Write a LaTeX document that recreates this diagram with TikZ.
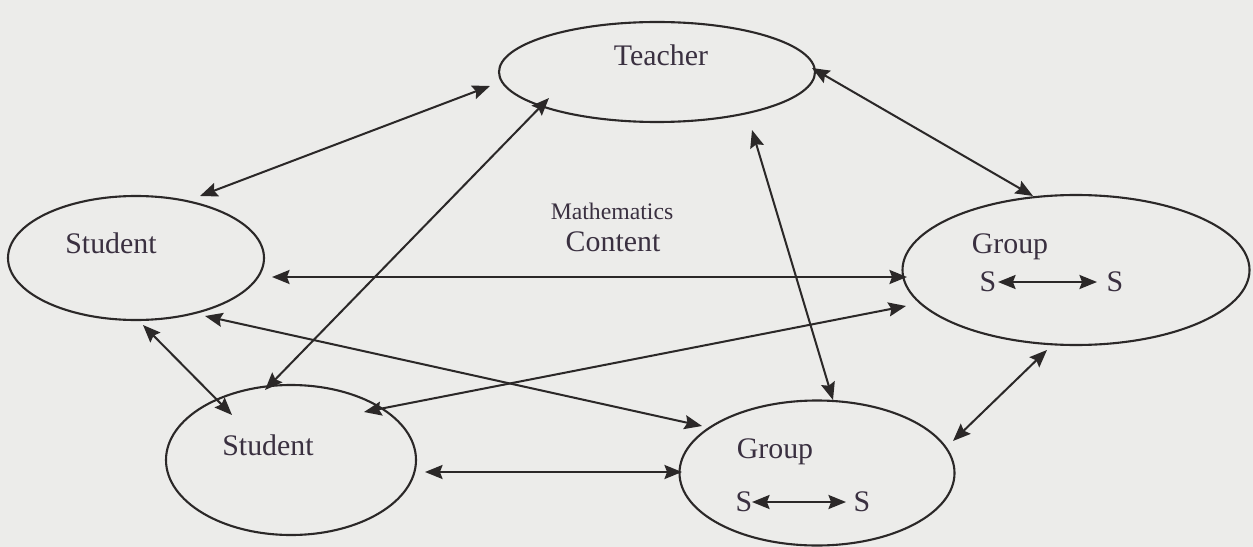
\documentclass[tikz,border=0pt]{standalone}
\usepackage{fontspec}
\setmainfont{Liberation Serif}
\usetikzlibrary{shapes.geometric,arrows.meta}
\definecolor{bg}{HTML}{ECECEA}
\definecolor{ink}{HTML}{2B2828}
\definecolor{txt}{HTML}{3A3040}
\tikzset{
  oval/.style={draw=ink, line width=1.2pt, ellipse, inner sep=0pt},
  link/.style={draw=ink, line width=1.15pt, {Stealth[length=10pt,width=8pt,inset=1.5pt]}-{Stealth[length=10pt,width=8pt,inset=1.5pt]}},
  lbl/.style={text=txt, font=\fontsize{17}{20}\selectfont, inner sep=0pt},
  small/.style={text=txt, font=\fontsize{13.5}{16}\selectfont, inner sep=0pt}
}
\begin{document}
\begin{tikzpicture}[x=0.02cm,y=-0.02cm]
\fill[bg] (0,0) rectangle (1253,547);
\useasboundingbox (0,0) rectangle (1253,547);
% ellipses
\node[oval, minimum width=316*0.02cm, minimum height=100*0.02cm] (teacher) at (657,72) {};
\node[oval, minimum width=256*0.02cm, minimum height=124*0.02cm] (studentL) at (136,258) {};
\node[oval, minimum width=250*0.02cm, minimum height=150*0.02cm] (studentB) at (291,460) {};
\node[oval, minimum width=347*0.02cm, minimum height=150*0.02cm] (groupR) at (1076,270) {};
\node[oval, minimum width=275*0.02cm, minimum height=145*0.02cm] (groupB) at (817,473) {};
% labels
\node[lbl] (tT) at (661,55) {Teacher};
\node[lbl] (tSL) at (111,243) {Student};
\node[lbl] (tSB) at (268,445) {Student};
\node[lbl] (tGR) at (1010,247) {Group};
\node[lbl] (tGB) at (775,452) {Group};
\node[small] (tM) at (612,211) {Mathematics};
\node[lbl] (tC) at (613,242) {Content};
% S <-> S
\node[lbl] (sR1) at (988,282) {S};
\node[lbl] (sR2) at (1115,282) {S};
\node[lbl] (sB1) at (744,502) {S};
\node[lbl] (sB2) at (862,502) {S};
\coordinate (sr1) at (998,282); \coordinate (sr2) at (1097,282);
\coordinate (sb1) at (752,502); \coordinate (sb2) at (846,502);
\draw[link] (sr1) -- (sr2);
\draw[link] (sb1) -- (sb2);
% endpoints
\coordinate (a1) at (490,86);  \coordinate (b1) at (200,196);
\coordinate (a2) at (549,98);  \coordinate (b2) at (265,390);
\coordinate (a3) at (812,68);  \coordinate (b3) at (1033,196);
\coordinate (a4) at (752,130); \coordinate (b4) at (833,400);
\coordinate (a5) at (272,277); \coordinate (b5) at (907,277);
\coordinate (a6) at (143,325); \coordinate (b6) at (232,415);
\coordinate (a7) at (205,316); \coordinate (b7) at (702,426);
\coordinate (a8) at (364,412); \coordinate (b8) at (906,306);
\coordinate (a9) at (425,472); \coordinate (b9) at (682,472);
\coordinate (a10) at (953,441); \coordinate (b10) at (1047,350);
\foreach \i in {1,...,10}{\draw[link] (a\i) -- (b\i);}
\end{tikzpicture}
\end{document}
